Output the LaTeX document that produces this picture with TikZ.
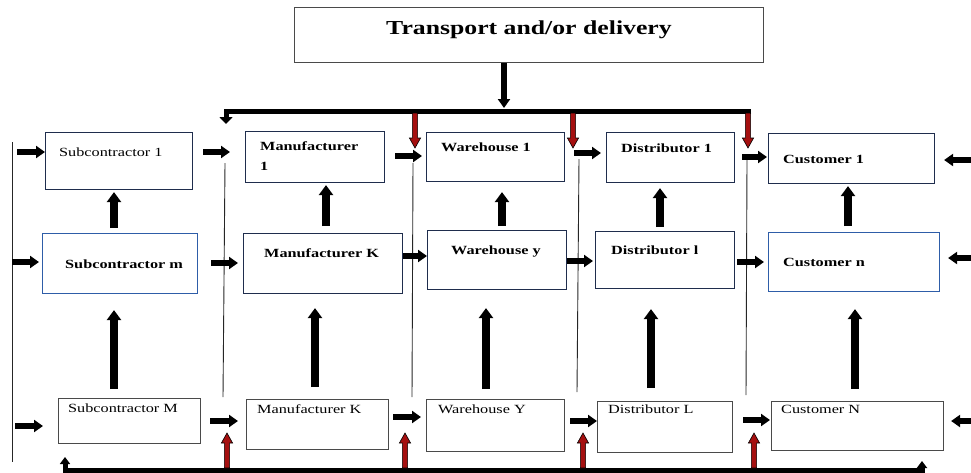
\documentclass[tikz,border=0pt]{standalone}
\usepackage{fontspec}
\setmainfont{Liberation Serif}[FakeStretch=1.3]
\usetikzlibrary{arrows.meta}
\definecolor{frame}{HTML}{1F2D4D}
\definecolor{blueframe}{HTML}{2E5DA8}
\definecolor{grayframe}{HTML}{4A4A4A}
\definecolor{flowred}{HTML}{A50F0F}
\tikzset{
  box/.style={draw=frame, line width=1.1pt, anchor=north west, inner sep=0pt},
  bluebox/.style={box, draw=blueframe},
  graybox/.style={box, draw=grayframe},
  size/.style 2 args={minimum width=#1pt, minimum height=#2pt},
  lbl/.style={anchor=base west, inner sep=0pt, align=left, font=\fontsize{12.5}{20}\selectfont},
  blbl/.style={lbl, font=\fontsize{12.5}{20}\selectfont\bfseries},
  ttl/.style={anchor=base, inner sep=0pt, font=\fontsize{19.8}{24}\selectfont\bfseries},
  gap/.style 2 args={shorten <=#1pt, shorten >=#2pt},
  hflow/.style={line width=5.5pt, -{Triangle[length=9pt, width=12pt]}},
  vflow/.style={line width=7.5pt, -{Triangle[length=10pt, width=14pt]}},
  bus/.style={line width=5pt, line join=miter},
  rail/.style={draw=black!85, line width=0.9pt},
  redArrow/.pic={
    \draw[fill=flowred, line width=0.6pt, line join=miter]
      (-2.6,0) -- (-2.6,25) -- (-5.6,25) -- (0,35) -- (5.6,25) -- (2.6,25) -- (2.6,0) -- cycle;
  }
}

\begin{document}
\begin{tikzpicture}[x=1pt, y=-1pt]
  \useasboundingbox (0,0) rectangle (971,472);

  \node[graybox, size={469}{55}] (title) at (294,7) {};
  \node[ttl] (title-t) at ([shift={(235,27)}]title.north west) {Transport and/or delivery};

  \node[box, size={147}{57}] (sub1) at (45,132) {};
  \node[box, size={139}{51}] (man1) at (245,131) {};
  \node[box, size={138}{49}] (wh1) at (426,132) {};
  \node[box, size={128}{50}] (dist1) at (606,132) {};
  \node[box, size={166}{50}] (cust1) at (768,133) {};

  \node[bluebox, size={155}{60}] (subm) at (42,233) {};
  \node[box, size={159}{60}] (mank) at (243,233) {};
  \node[box, size={139}{59}] (why) at (427,230) {};
  \node[box, size={139}{57}] (distl) at (595,231) {};
  \node[bluebox, size={171}{59}] (custn) at (768,232) {};

  \node[graybox, size={142}{45}] (subM) at (58,398) {};
  \node[graybox, size={142}{50}] (manK) at (246,399) {};
  \node[graybox, size={138}{52}] (whY) at (426,399) {};
  \node[graybox, size={135}{51}] (distL) at (597,401) {};
  \node[graybox, size={172}{49}] (custN) at (771,401) {};

  \node[lbl] (sub1-t) at ([shift={(14,24)}]sub1.north west) {Subcontractor 1};
  \node[blbl] (man1-t) at ([shift={(15,39)}]man1.north west) {Manufacturer\\1};
  \node[blbl] (wh1-t) at ([shift={(15,19)}]wh1.north west) {Warehouse 1};
  \node[blbl] (dist1-t) at ([shift={(15,20)}]dist1.north west) {Distributor 1};
  \node[blbl] (cust1-t) at ([shift={(15,30)}]cust1.north west) {Customer 1};

  \node[blbl] (subm-t) at ([shift={(23,35)}]subm.north west) {Subcontractor m};
  \node[blbl] (mank-t) at ([shift={(21,24)}]mank.north west) {Manufacturer K};
  \node[blbl] (why-t) at ([shift={(24,24)}]why.north west) {Warehouse y};
  \node[blbl] (distl-t) at ([shift={(16,23)}]distl.north west) {Distributor l};
  \node[blbl] (custn-t) at ([shift={(15,34)}]custn.north west) {Customer n};

  \node[lbl] (subM-t) at ([shift={(10,14)}]subM.north west) {Subcontractor M};
  \node[lbl] (manK-t) at ([shift={(11,14)}]manK.north west) {Manufacturer K};
  \node[lbl] (whY-t) at ([shift={(12,14)}]whY.north west) {Warehouse Y};
  \node[lbl] (distL-t) at ([shift={(11,12)}]distL.north west) {Distributor L};
  \node[lbl] (custN-t) at ([shift={(10,12)}]custN.north west) {Customer N};

  \draw[rail] (12,142) -- (12,462);
  \draw[rail] (225,163) -- (223,397);
  \draw[rail] (413,163) -- (412,397);
  \draw[rail] (579,159) -- (577,392);
  \draw[rail] (747,160) -- (746,395);

  \coordinate (busR) at (751,111);
  \draw[bus, -{Triangle[length=7pt, width=13pt]}] (busR) -- (226,111) -- (226,124);
  \draw[hflow, gap={0}{3}] (title.south -| 504,0) -- (busR -| 504,0);
  \draw[bus, {Triangle[length=7pt, width=10pt]}-{Triangle[length=7pt, width=10pt]}]
    (65,457) -- (65,470) -- (922,470) -- (922,461);

  \foreach \x in {415,573,748}
    \pic at (\x,113) {redArrow};
  \foreach \x in {227,405,583,754}
    \pic[rotate=180] at (\x,468) {redArrow};

  \draw[hflow] (sub1.west |- 0,152) ++(-28,0) -- ++(28,0);
  \draw[hflow, gap={10}{15}] (sub1.east |- 0,152) -- (man1.west |- 0,152);
  \draw[hflow, gap={10}{4}] (man1.east |- 0,156) -- (wh1.west |- 0,156);
  \draw[hflow, gap={9}{5}] (wh1.east |- 0,153) -- (dist1.west |- 0,153);
  \draw[hflow, gap={7}{1}] (dist1.east |- 0,157) -- (cust1.west |- 0,157);
  \draw[hflow] (cust1.east |- 0,160) ++(37,0) -- ++(-28,0);

  \draw[hflow] (subm.west |- 0,262) ++(-30,0) -- ++(27,0);
  \draw[hflow, gap={13}{5}] (subm.east |- 0,263) -- (mank.west |- 0,263);
  \draw[hflow, gap={0}{0}] (mank.east |- 0,256) -- (why.west |- 0,256);
  \draw[hflow, gap={0}{2}] (why.east |- 0,261) -- (distl.west |- 0,261);
  \draw[hflow, gap={2}{4}] (distl.east |- 0,262) -- (custn.west |- 0,262);
  \draw[hflow] (custn.east |- 0,258) ++(32,0) -- ++(-24,0);

  \draw[hflow] (subM.west |- 0,426) ++(-43,0) -- ++(28,0);
  \draw[hflow, gap={9}{8}] (subM.east |- 0,421) -- (manK.west |- 0,421);
  \draw[hflow, gap={4}{5}] (manK.east |- 0,417) -- (whY.west |- 0,417);
  \draw[hflow, gap={5}{0}] (whY.east |- 0,421) -- (distL.west |- 0,421);
  \draw[hflow, gap={10}{1}] (distL.east |- 0,420) -- (custN.west |- 0,420);
  \draw[hflow] (custN.east |- 0,421) ++(28,0) -- ++(-21,0);

  \draw[vflow, gap={5}{2}] (subm.north -| 114,0) -- (sub1.south -| 114,0);
  \draw[vflow, gap={7}{2}] (mank.north -| 326,0) -- (man1.south -| 326,0);
  \draw[vflow, gap={4}{10}] (why.north -| 502,0) -- (wh1.south -| 502,0);
  \draw[vflow, gap={4}{5}] (distl.north -| 660,0) -- (dist1.south -| 660,0);
  \draw[vflow, gap={6}{2}] (custn.north -| 848,0) -- (cust1.south -| 848,0);

  \draw[vflow, gap={9}{16}] (subM.north -| 114,0) -- (subm.south -| 114,0);
  \draw[vflow, gap={12}{14}] (manK.north -| 315,0) -- (mank.south -| 315,0);
  \draw[vflow, gap={10}{18}] (whY.north -| 486,0) -- (why.south -| 486,0);
  \draw[vflow, gap={13}{20}] (distL.north -| 651,0) -- (distl.south -| 651,0);
  \draw[vflow, gap={12}{17}] (custN.north -| 855,0) -- (custn.south -| 855,0);
\end{tikzpicture}
\end{document}
